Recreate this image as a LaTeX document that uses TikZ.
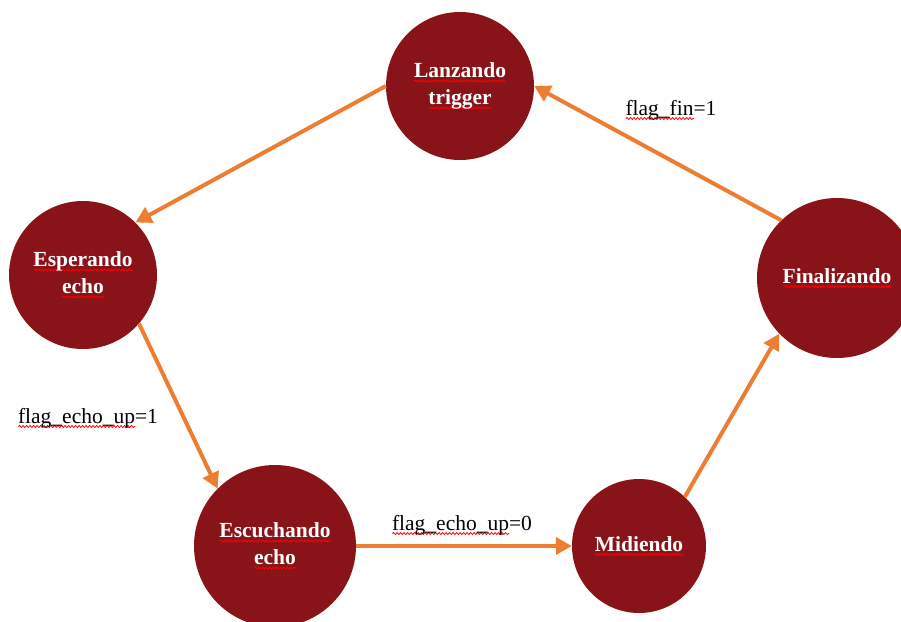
\documentclass[tikz,border=0pt]{standalone}
\usepackage{fontspec}
\setmainfont{Liberation Serif}
\usetikzlibrary{arrows.meta,decorations.pathmorphing}
\definecolor{statered}{RGB}{136,20,25}
\definecolor{arroworange}{RGB}{237,125,49}
\newsavebox\wavebox
\newcommand\spellwave[1]{\sbox\wavebox{#1}\makebox[0pt][l]{\raisebox{-3.5pt}{\tikz[baseline=0pt]\draw[red,line width=0.8pt,decorate,decoration={snake,amplitude=1pt,segment length=3.5pt}] (0pt,0pt) -- (\wd\wavebox,0pt);}}\usebox\wavebox}
\tikzset{
  statenode/.style={circle, fill=statered, inner sep=0pt, text=white,
    font=\fontsize{21.5}{27}\selectfont\bfseries, align=center},
  flow/.style={draw=arroworange, line width=4pt, -{Triangle[length=16pt,width=17pt]}},
  lbl/.style={font=\fontsize{21.5}{26}\selectfont, anchor=base, inner sep=0pt, text=black}
}
\begin{document}
\begin{tikzpicture}[x=1pt,y=-1pt]
\useasboundingbox[fill=white] (0,0) rectangle (901,621);
\node[statenode, minimum size=148pt] (lan) at (460,86) {\raisebox{-3pt}{\spellwave{Lanzando}}\\\raisebox{-3pt}{\spellwave{trigger}}};
\node[statenode, minimum size=148pt] (esp) at (83,275) {\spellwave{Esperando}\\\spellwave{echo}};
\node[statenode, minimum size=162pt] (esc) at (275,546) {\spellwave{Escuchando}\\\spellwave{echo}};
\node[statenode, minimum size=134pt] (mid) at (639,546) {\spellwave{Midiendo}};
\node[statenode, minimum size=160pt] (fin) at (837,278) {\spellwave{Finalizando}};

\draw[flow] (lan.180) -- (esp.45);
\draw[flow] (esp.-41) -- (esc.135);
\draw[flow] (esc.0) -- (mid.180);
\draw[flow] (mid.47) -- (fin.224);
\draw[flow] (fin.134) -- (lan.0);

\node[lbl] (lfin) at (671,115) {\spellwave{flag\_fin}=1};
\node[lbl] (lup1) at (88,423) {\spellwave{flag\_echo\_up}=1};
\node[lbl] (lup0) at (462,530) {\spellwave{flag\_echo\_up}=0};
\end{tikzpicture}
\end{document}
